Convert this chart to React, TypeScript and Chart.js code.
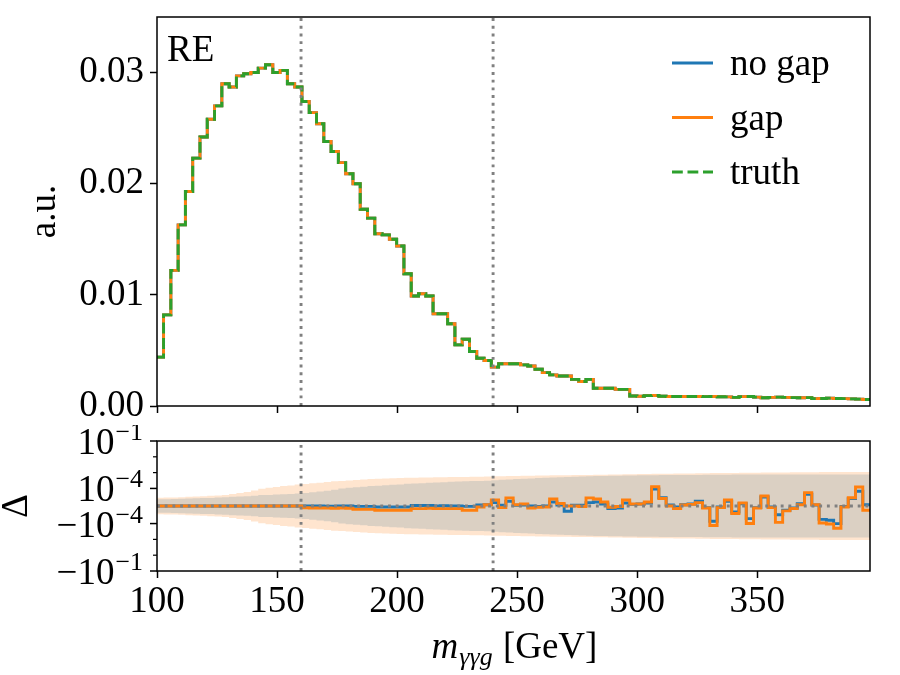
import React, { useEffect, useRef } from 'react';
import { Chart, registerables, Scale } from 'chart.js';

// ---------------- data ----------------
const BIN_START = 99.7;
const BIN_WIDTH = 3.034;
const X_MIN = 100;
const X_MAX = 397;
const Y_TOP_MAX = 0.035;
const DELTA_MIN = -0.1;
const DELTA_MAX = 0.1;
const E5 = 1e-5; // unit of the delta / band arrays

// normalised histogram (identical for no gap / gap / truth in the top panel)
const histValues = [
  0.0044, 0.0082, 0.0122, 0.0163, 0.0193, 0.0223, 0.0242, 0.0258, 0.0270, 0.0290,
  0.0287, 0.0297, 0.0299, 0.0300, 0.0304, 0.0307, 0.0300, 0.0302, 0.0290, 0.0287,
  0.0274, 0.0264, 0.0254, 0.0238, 0.0229, 0.0219, 0.0209, 0.0200, 0.0177, 0.0169,
  0.0155, 0.0154, 0.0150, 0.0144, 0.0119, 0.0099, 0.0101, 0.0099, 0.0083, 0.0083,
  0.0074, 0.0055, 0.0060, 0.0049, 0.0043, 0.0041, 0.0035, 0.0038, 0.0038, 0.0038,
  0.0037, 0.0036, 0.0033, 0.0030, 0.0028, 0.0027, 0.0027, 0.0024, 0.0022, 0.0024,
  0.0016, 0.0016, 0.0016, 0.0015, 0.0015, 0.00090, 0.00088, 0.00093, 0.00094, 0.00088,
  0.00086, 0.00086, 0.00085, 0.00086, 0.00085, 0.00084, 0.00085, 0.00083, 0.00082, 0.00078,
  0.00084, 0.00085, 0.00080, 0.00074, 0.00078, 0.00080, 0.00078, 0.00075, 0.00074, 0.00075,
  0.00066, 0.00068, 0.00071, 0.00068, 0.00066, 0.00064, 0.00062, 0.00058,
];

// Δ for "gap" (orange), units of 1e-5
const deltaGapE5 = [
  0, 0, 0, 0, 0, 0, 0, 0, 0, 0,
  0, 0, 0, 0, 0, 0, 0, 0, 0, 0,
  -1.0, -1.1, -1.1, -1.1, -1.3, -1.1, -1.3, -1.9, -1.9, -1.9,
  -2.4, -2.4, -2.4, -2.4, -2.4, -1.5, -1.5, -1.3, -1.5, -1.5,
  -1.5, -1.5, -2.4, -2.4, -0.6, 0.7, 3.4, -0.9, 4.6, 0.7,
  1.1, -1.1, -0.7, -0.6, 4.0, 1.4, 0, 0, -0.3, 4.6,
  4.0, 2.3, -0.7, -0.3, 3.4, 1.1, 1.1, 2.3, 12.9, 4.3,
  0, -1.4, 0.6, 0.9, 1.9, -1.1, -13.2, -0.9, 3.4, -4.3,
  1.7, -10.0, -1.1, 5.7, -0.9, -9.3, -2.8, -1.4, 0.7, 7.6,
  0.7, -9.7, -10.7, -19.6, -0.6, 4.7, 12.3, -2.4,
];

// Δ for "no gap" (blue), units of 1e-5
const deltaNoGapE5 = [
  0, 0, 0, 0, 0, 0, 0, 0, 0, 0,
  0, 0, 0, 0, 0, 0, 0, 0, 0, 0,
  0, 0, 0, -0.1, -0.1, 0, 0, -0.2, -0.2, -0.2,
  -0.6, -0.6, -0.6, -0.6, -0.6, 0.3, 0.3, 0.3, 0, 0.1,
  0, 0, -0.2, -0.2, 0.6, 0.7, 1.9, 0.4, 2.7, 0.4,
  0.6, 0, -0.3, 0, 2.3, 0.6, -3.0, 0.4, 0.4, 1.9,
  2.3, 1.1, -1.4, -1.1, 1.7, 0.9, 1.1, 1.7, 9.7, 4.7,
  0.6, -0.6, 0.7, 1.1, 2.7, -0.9, -8.7, -0.6, 2.7, -3.4,
  1.3, -7.2, -0.9, 5.1, -0.6, -5.0, -2.4, -1.1, 1.3, 6.7,
  0.6, -7.6, -8.1, -10.1, -0.3, 4.2, 8.4, 0.7,
];

// uncertainty band half-widths, units of 1e-5
const bandGapE5 = [
  4.7, 4.8, 4.9, 5.0, 5.2, 5.4, 5.6, 5.8, 6.0, 6.3,
  6.8, 7.4, 8.0, 8.8, 9.8, 11, 12.5, 14, 15.5, 17.5,
  19, 21, 23, 25.5, 28, 30, 32, 34, 36.5, 39,
  41, 43, 44, 45.5, 47, 48, 49, 50, 50.5, 51,
  52, 52.5, 53, 54, 55, 56, 58, 60, 61, 62,
  63, 64, 65, 66, 67, 68, 69, 70, 71, 72,
  73, 74, 76, 77, 79, 80, 82, 83, 84, 85,
  86, 87, 88, 89, 90, 92, 93, 94, 95, 96,
  97, 98, 99, 100, 101, 102, 103, 104, 105, 106,
  107, 108, 108, 109, 109, 110, 110, 110,
];
const bandNoGapE5 = [
  3.8, 3.9, 4.0, 4.1, 4.2, 4.4, 4.5, 4.6, 4.8, 5.0,
  5.2, 5.4, 5.6, 5.9, 6.2, 6.3, 6.5, 6.7, 6.9, 7.1,
  7.4, 7.8, 8.2, 8.7, 9.3, 10, 11, 12, 13, 14,
  15, 16, 17, 18, 19.5, 20.5, 21.5, 23, 24, 25,
  26, 27, 28, 29, 30, 31, 33, 35, 37, 39,
  41, 43, 45, 47, 49, 51, 53, 55, 57, 59,
  61, 62, 63, 64, 65, 66, 67, 68, 69, 70,
  70, 71, 71, 72, 72, 73, 73, 74, 74, 75,
  75, 75, 76, 76, 76, 76, 76, 77, 77, 77,
  77, 77, 77, 77, 77, 77, 77, 77,
];

const xTicks = [100, 150, 200, 250, 300, 350];
const yTicksTop = [0, 0.01, 0.02, 0.03];
const yTicksDeltaMajor = [-0.1, -1e-4, 1e-4, 0.1];
const yTickDeltaLabels = [['−10', '−1'], ['−10', '−4'], ['10', '−4'], ['10', '−1']];
const yTicksDeltaMinor = [-0.01, -0.001, 0.001, 0.01];
const cutValues = [160, 240];
const legendLabels = ['no gap', 'gap', 'truth'];
const panelTag = 'RE';
const yLabelTop = 'a.u.';
const yLabelBottom = 'Δ';
const xLabelParts = ['m', 'γγg', ' [GeV]'];

// ---------------- style ----------------
const BLUE = '#1f77b4';
const ORANGE = '#ff7f0e';
const GREEN = '#2ca02c';
const GRAY = '#808080';
const FAMILY = '"Liberation Serif", "DejaVu Serif", serif';
const FS = 37;
const LW = 2.9;
const DOT = [2.9, 4.8];
const DASH = [10.8, 4.7];
const TICK_LEN = 7;
const TICK_W = 1.5;

const f = (size: number, style = '') => `${style} ${size}px ${FAMILY}`.trim();

// ---------------- symlog scale ----------------
const LINTHRESH = 1e-4;
const LINSCALE_ADJ = 1 / (1 - 1 / 10);
function symlog(v: number) {
  const a = Math.abs(v);
  if (a <= LINTHRESH) return (v / LINTHRESH) * LINSCALE_ADJ;
  return Math.sign(v) * (LINSCALE_ADJ + Math.log10(a / LINTHRESH));
}
function symexp(t: number) {
  const a = Math.abs(t);
  if (a <= LINSCALE_ADJ) return (t / LINSCALE_ADJ) * LINTHRESH;
  return Math.sign(t) * LINTHRESH * Math.pow(10, a - LINSCALE_ADJ);
}
class SymlogScale extends (Scale as any) {
  static id = 'symlog';
  static defaults = {};
  determineDataLimits() {
    this.min = this.options.min;
    this.max = this.options.max;
  }
  buildTicks() {
    return yTicksDeltaMajor.map((value) => ({ value }));
  }
  getLabelForValue(v: number) {
    return String(v);
  }
  getPixelForValue(v: number) {
    const a = symlog(this.min);
    const b = symlog(this.max);
    return this.getPixelForDecimal((symlog(v) - a) / (b - a));
  }
  getValueForPixel(p: number) {
    const a = symlog(this.min);
    const b = symlog(this.max);
    return symexp(a + this.getDecimalForPixel(p) * (b - a));
  }
}

Chart.register(...registerables, SymlogScale as any);

// ---------------- helpers ----------------
const edges = histValues.map((_, i) => BIN_START + i * BIN_WIDTH).concat([BIN_START + histValues.length * BIN_WIDTH]);
function stepPoints(values: number[], unit = 1, sign = 1) {
  const pts = values.map((v, i) => ({ x: edges[i], y: sign * v * unit }));
  pts.push({ x: edges[values.length], y: sign * values[values.length - 1] * unit });
  return pts;
}

const tickGrid = {
  display: true,
  drawOnChartArea: false,
  drawTicks: true,
  tickLength: TICK_LEN,
  tickWidth: TICK_W,
  tickColor: '#000',
};
const tickFont = { family: FAMILY, size: FS, lineHeight: 1.2 };

function xScale(showLabels: boolean, height: number) {
  return {
    type: 'linear',
    min: X_MIN,
    max: X_MAX,
    afterBuildTicks: (s: any) => {
      s.ticks = xTicks.map((value) => ({ value }));
    },
    afterFit: (s: any) => {
      s.height = height;
      s.paddingLeft = 0;
      s.paddingRight = 0;
    },
    grid: tickGrid,
    border: { display: false },
    ticks: {
      display: showLabels,
      font: tickFont,
      color: '#000',
      padding: 2,
      maxRotation: 0,
      autoSkip: false,
      callback: (v: any) => String(v),
    },
  };
}

const line = (ctx: any, x1: number, y1: number, x2: number, y2: number) => {
  ctx.beginPath();
  ctx.moveTo(x1, y1);
  ctx.lineTo(x2, y2);
  ctx.stroke();
};

const boxPlugin = {
  id: 'box',
  afterDatasetsDraw(chart: any) {
    const { ctx, chartArea: a } = chart;
    ctx.save();
    ctx.strokeStyle = '#000';
    ctx.lineWidth = TICK_W;
    ctx.setLineDash([]);
    ctx.strokeRect(a.left, a.top, a.right - a.left, a.bottom - a.top);
    ctx.restore();
  },
};

const topDecor = {
  id: 'topDecor',
  afterDraw(chart: any) {
    const { ctx, chartArea: a } = chart;
    ctx.save();
    ctx.fillStyle = '#000';
    ctx.font = f(FS);
    ctx.textAlign = 'left';
    ctx.textBaseline = 'alphabetic';
    ctx.fillText(panelTag, a.left + 10, a.top + 44);
    // legend
    const rows = [63, 117.5, 172];
    legendLabels.forEach((lab, i) => {
      const ds = chart.data.datasets[i];
      ctx.beginPath();
      ctx.strokeStyle = ds.borderColor;
      ctx.lineWidth = LW;
      ctx.setLineDash(ds.borderDash || []);
      ctx.moveTo(672, rows[i]);
      ctx.lineTo(713, rows[i]);
      ctx.stroke();
      ctx.setLineDash([]);
      ctx.fillText(lab, 730, rows[i] + 12);
    });
    // y label
    ctx.translate(55, (a.top + a.bottom) / 2);
    ctx.rotate(-Math.PI / 2);
    ctx.textAlign = 'center';
    ctx.fillText(yLabelTop, 0, 0);
    ctx.restore();
  },
};

const bottomDecor = {
  id: 'bottomDecor',
  afterDraw(chart: any) {
    const { ctx, chartArea: a } = chart;
    const ys = chart.scales.y;
    ctx.save();
    ctx.strokeStyle = '#000';
    ctx.fillStyle = '#000';
    ctx.setLineDash([]);
    ctx.textAlign = 'left';
    ctx.textBaseline = 'alphabetic';
    const supSize = FS * 0.7;
    yTicksDeltaMajor.forEach((v, i) => {
      const py = ys.getPixelForValue(v);
      ctx.lineWidth = TICK_W;
      line(ctx, a.left - TICK_LEN, py, a.left, py);
      const [base, sup] = yTickDeltaLabels[i];
      ctx.font = f(FS);
      const wb = ctx.measureText(base).width;
      ctx.font = f(supSize);
      const ws = ctx.measureText(sup).width;
      const x0 = a.left - TICK_LEN - 7 - wb - ws - 1;
      ctx.font = f(FS);
      ctx.fillText(base, x0, py + 13);
      ctx.font = f(supSize);
      ctx.fillText(sup, x0 + wb + 1, py + 13 - 14);
    });
    yTicksDeltaMinor.forEach((v) => {
      const py = ys.getPixelForValue(v);
      ctx.lineWidth = 1.2;
      line(ctx, a.left - 4, py, a.left, py);
    });
    // Δ label
    ctx.save();
    ctx.font = f(FS);
    ctx.translate(27, (a.top + a.bottom) / 2);
    ctx.rotate(-Math.PI / 2);
    ctx.textAlign = 'center';
    ctx.fillText(yLabelBottom, 0, 0);
    ctx.restore();
    // x label
    const [m, sub, rest] = xLabelParts;
    ctx.font = f(FS, 'italic');
    const wm = ctx.measureText(m).width;
    ctx.font = f(supSize, 'italic');
    const wsub = ctx.measureText(sub).width;
    ctx.font = f(FS);
    const wr = ctx.measureText(rest).width;
    const total = wm + wsub + wr;
    const x0 = (a.left + a.right) / 2 - total / 2;
    const by = 233;
    ctx.font = f(FS, 'italic');
    ctx.fillText(m, x0, by);
    ctx.font = f(supSize, 'italic');
    ctx.fillText(sub, x0 + wm + 1, by + 7);
    ctx.font = f(FS);
    ctx.fillText(rest, x0 + wm + wsub + 2, by);
    ctx.restore();
  },
};

const lineDs = (data: any, color: string, order: number, extra: any = {}) => ({
  data,
  borderColor: color,
  borderWidth: LW,
  pointRadius: 0,
  pointHoverRadius: 0,
  fill: false,
  tension: 0,
  order,
  ...extra,
});

function topConfig(): any {
  return {
    type: 'line',
    data: {
      datasets: [
        lineDs(stepPoints(histValues), BLUE, 3, { label: legendLabels[0], stepped: true }),
        lineDs(stepPoints(histValues), ORANGE, 2, { label: legendLabels[1], stepped: true }),
        lineDs(stepPoints(histValues), GREEN, 1, { label: legendLabels[2], stepped: true, borderDash: DASH }),
        ...cutValues.map((c) =>
          lineDs([{ x: c, y: 0 }, { x: c, y: Y_TOP_MAX }], GRAY, 0, { borderDash: DOT, borderCapStyle: 'butt' })
        ),
      ],
    },
    options: {
      animation: false,
      responsive: false,
      devicePixelRatio: 1,
      events: [],
      layout: { autoPadding: false, padding: { left: 0, right: 30, top: 17, bottom: 0 } },
      plugins: { legend: { display: false }, tooltip: { enabled: false }, title: { display: false } },
      scales: {
        x: xScale(false, 19),
        y: {
          type: 'linear',
          min: 0,
          max: Y_TOP_MAX,
          afterBuildTicks: (s: any) => {
            s.ticks = yTicksTop.map((value) => ({ value }));
          },
          afterFit: (s: any) => {
            s.width = 157;
            s.paddingTop = 0;
            s.paddingBottom = 0;
          },
          grid: tickGrid,
          border: { display: false },
          ticks: {
            font: tickFont,
            color: '#000',
            padding: 6,
            callback: (v: any) => Number(v).toFixed(2),
          },
        },
      },
    },
    plugins: [boxPlugin, topDecor],
  };
}

function bottomConfig(): any {
  const band = (vals: number[], sign: number, order: number, fillColor?: string) => ({
    data: stepPoints(vals, E5, sign),
    borderColor: 'transparent',
    borderWidth: 0,
    pointRadius: 0,
    pointHoverRadius: 0,
    stepped: true,
    fill: fillColor ? '-1' : false,
    backgroundColor: fillColor || 'transparent',
    order,
  });
  return {
    type: 'line',
    data: {
      datasets: [
        band(bandNoGapE5, 1, 20),
        band(bandNoGapE5, -1, 20, 'rgba(31,119,180,0.2)'),
        band(bandGapE5, 1, 19),
        band(bandGapE5, -1, 19, 'rgba(255,127,14,0.2)'),
        lineDs(stepPoints(deltaNoGapE5, E5), BLUE, 5, { stepped: true }),
        lineDs(stepPoints(deltaGapE5, E5), ORANGE, 4, { stepped: true }),
        lineDs([{ x: X_MIN, y: 0 }, { x: X_MAX, y: 0 }], GRAY, 1, { borderDash: DOT }),
        ...cutValues.map((c) =>
          lineDs([{ x: c, y: DELTA_MIN }, { x: c, y: DELTA_MAX }], GRAY, 0, { borderDash: DOT })
        ),
      ],
    },
    options: {
      animation: false,
      responsive: false,
      devicePixelRatio: 1,
      events: [],
      layout: { autoPadding: false, padding: { left: 0, right: 30, top: 16, bottom: 0 } },
      plugins: { legend: { display: false }, tooltip: { enabled: false }, title: { display: false } },
      scales: {
        x: xScale(true, 104),
        y: {
          type: 'symlog',
          min: DELTA_MIN,
          max: DELTA_MAX,
          afterFit: (s: any) => {
            s.width = 157;
            s.paddingTop = 0;
            s.paddingBottom = 0;
          },
          grid: { display: false },
          border: { display: false },
          ticks: { display: false },
        },
      },
    },
    plugins: [boxPlugin, bottomDecor],
  };
}

export default function App() {
  const topRef = useRef<HTMLCanvasElement>(null);
  const botRef = useRef<HTMLCanvasElement>(null);
  useEffect(() => {
    const top = new Chart(topRef.current as any, topConfig());
    const bot = new Chart(botRef.current as any, bottomConfig());
    return () => {
      top.destroy();
      bot.destroy();
    };
  }, []);
  return (
    <div style={{ position: 'fixed', left: 0, top: 0, width: 900, height: 675, background: '#fff' }}>
      <canvas
        ref={topRef}
        width={900}
        height={425}
        style={{ position: 'absolute', left: 0, top: 0, width: 900, height: 425 }}
      />
      <canvas
        ref={botRef}
        width={900}
        height={250}
        style={{ position: 'absolute', left: 0, top: 425, width: 900, height: 250 }}
      />
    </div>
  );
}
